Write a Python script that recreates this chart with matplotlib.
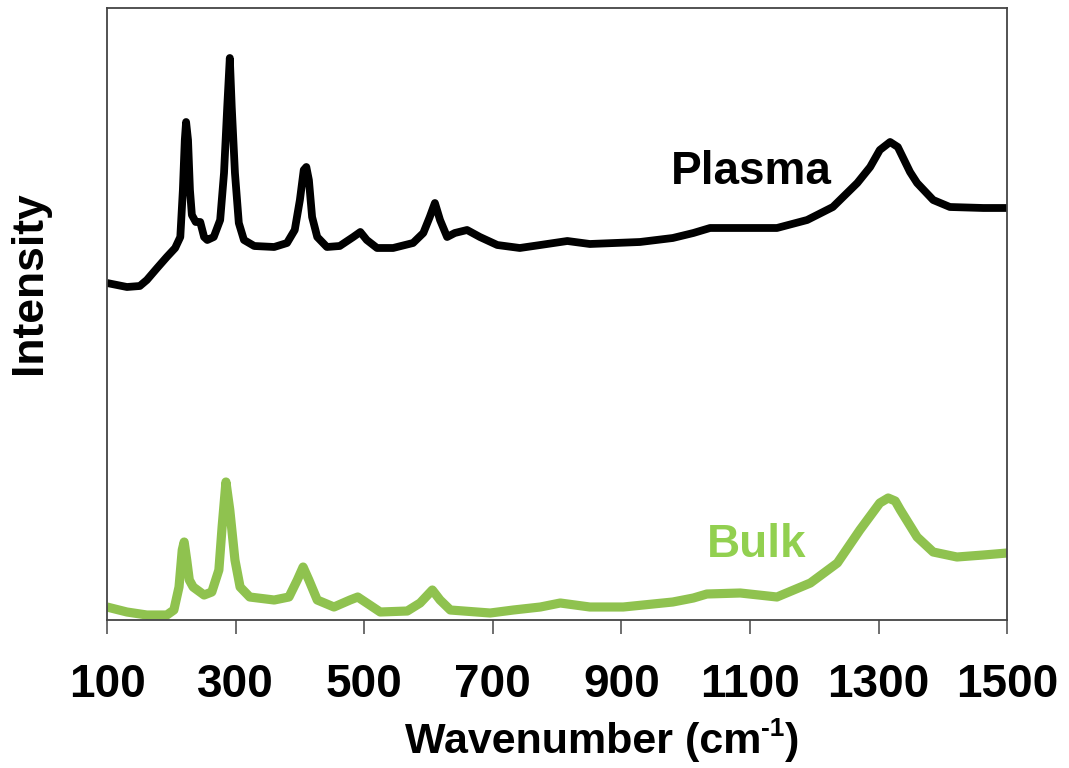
import numpy as np
import matplotlib.pyplot as plt

# Raman spectra (intensity in arbitrary units)
plasma_x = [100, 131, 151, 162, 178, 193, 206, 214, 218, 221, 223, 226, 229, 232,
            238, 245, 251, 256, 266, 276, 282, 287, 291, 294, 299, 305, 313, 329,
            360, 380, 392, 400, 406, 410, 414, 419, 427, 442, 462, 483, 494, 504,
            520, 545, 576, 592, 602, 610, 618, 629, 641, 660, 680, 707, 742, 774,
            816, 851, 929, 980, 1012, 1038, 1100, 1142, 1189, 1229, 1267, 1287,
            1302, 1318, 1330, 1349, 1360, 1385, 1411, 1463, 1500]
plasma_y = [337, 333, 334, 340, 352, 363, 372, 383, 430, 480, 498, 480, 430, 405,
            398, 398, 383, 380, 383, 400, 447, 513, 562, 513, 447, 397, 380, 374,
            373, 377, 390, 420, 450, 453, 440, 403, 383, 373, 374, 383, 388, 380,
            372, 372, 377, 387, 403, 417, 400, 383, 387, 390, 383, 375, 372, 375,
            379, 376, 378, 382, 387, 392, 392, 392, 400, 413, 437, 453,
            470, 478, 473, 448, 437, 420, 413, 412, 412]

bulk_x = [100, 131, 162, 193, 204, 212, 217, 220, 224, 228, 234, 251, 263, 274,
          279, 285, 291, 299, 307, 322, 360, 383, 396, 405, 414, 427, 453, 478,
          490, 504, 525, 567, 587, 606, 618, 634, 696, 732, 774, 805, 851, 903,
          980, 1012, 1033, 1085, 1142, 1194, 1236, 1271, 1302, 1315, 1326, 1334,
          1360, 1385, 1422, 1463, 1500]
bulk_y = [13, 8, 5, 5, 10, 33, 70, 78, 60, 40, 33, 25, 28, 50,
          93, 138, 110, 60, 33, 23, 20, 23, 40, 53, 40, 20, 13, 20,
          23, 17, 8, 9, 17, 30, 20, 10, 7, 10, 13, 17, 13, 13,
          18, 22, 26, 27, 23, 37, 57, 90, 117, 122, 119, 110,
          83, 68, 63, 65, 67]

xticks = [100, 300, 500, 700, 900, 1100, 1300, 1500]

plt.rcParams['font.family'] = ['Liberation Sans', 'DejaVu Sans']
plt.rcParams['font.weight'] = 'bold'

fig = plt.figure(figsize=(10.69, 7.68), dpi=100)
ax = fig.add_axes([0.1001, 0.1927, 0.842, 0.7969])

ax.plot(plasma_x, plasma_y, color='black', lw=5.6, solid_joinstyle='round', solid_capstyle='butt')
ax.plot(bulk_x, bulk_y, color='#8fc24f', lw=6.6, solid_joinstyle='round', solid_capstyle='butt')

ax.text(1102, 448, 'Plasma', fontsize=33, fontweight='bold', ha='center', va='center', color='black')
ax.text(1111, 75, 'Bulk', fontsize=33, fontweight='bold', ha='center', va='center', color='#92d050')

ax.set_xlim(100, 1500)
ax.set_ylim(0, 612)
ax.set_xticks(xticks)
ax.set_xticklabels([str(t) for t in xticks], fontsize=33, fontweight='bold')
ax.set_yticks([])
ax.tick_params(axis='x', direction='out', length=10, width=1.2, color='#555555', pad=21)
for s in ax.spines.values():
    s.set_color('#444444')
    s.set_linewidth(1.3)

# y label
fig.text(30 / 1069, 1 - 283 / 768, 'Intensity', rotation=90, fontsize=32,
         fontweight='bold', ha='center', va='center')

# x label with a small "-1" superscript, built from three pieces
fig.canvas.draw()
r = fig.canvas.get_renderer()
ly = 1 - 742 / 768
t1 = fig.text(0, ly, 'Wavenumber (cm', fontsize=31, fontweight='bold', va='center')
t2 = fig.text(0, ly + 0.017, '-1', fontsize=19, fontweight='bold', va='center')
t3 = fig.text(0, ly, ')', fontsize=31, fontweight='bold', va='center')
w1 = t1.get_window_extent(r).width / fig.bbox.width
w2 = t2.get_window_extent(r).width / fig.bbox.width
w3 = t3.get_window_extent(r).width / fig.bbox.width
x0 = 602 / 1069 - (w1 + w2 + w3) / 2
t1.set_x(x0)
t2.set_x(x0 + w1)
t3.set_x(x0 + w1 + w2)

plt.savefig('out.png')
